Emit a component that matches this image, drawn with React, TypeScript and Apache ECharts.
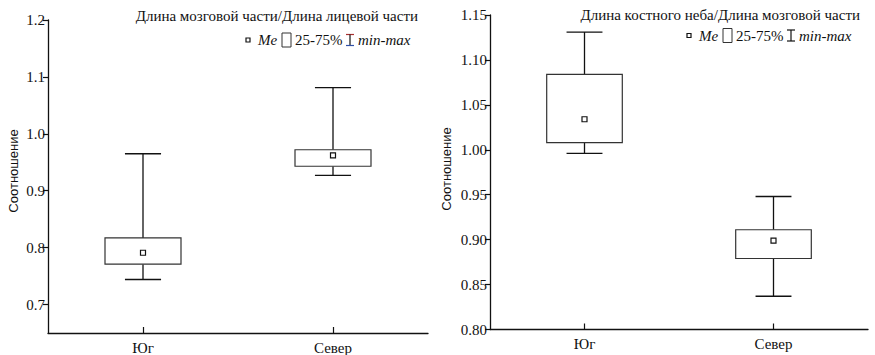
import { useEffect, useRef } from 'react';
import * as echarts from 'echarts';

const categories = ['Юг', 'Север'];
// [min, q1 (25%), median, q3 (75%), max]
const leftStats = [
  [0.744, 0.771, 0.791, 0.817, 0.965],
  [0.927, 0.943, 0.962, 0.972, 1.081],
];
const rightStats = [
  [0.996, 1.008, 1.034, 1.084, 1.131],
  [0.837, 0.879, 0.899, 0.911, 0.948],
];
const leftTicks = [0.7, 0.8, 0.9, 1.0, 1.1, 1.2];
const rightTicks = [0.8, 0.85, 0.9, 0.95, 1.0, 1.05, 1.1, 1.15];
const leftTitle = 'Длина мозговой части/Длина лицевой части';
const rightTitle = 'Длина костного неба/Длина мозговой части';
const yName = 'Соотношение';
const legendTexts = ['Me', '25-75%', 'min-max'];

const SERIF = 'Liberation Serif';
const SANS = 'Liberation Sans';
const INK = '#111111';

const renderBox = (params: any, api: any) => {
  const idx = api.value(0);
  const mn = api.value(1);
  const q1 = api.value(2);
  const md = api.value(3);
  const q3 = api.value(4);
  const mx = api.value(5);
  const band = api.size([1, 0])[0];
  const boxW = band * 0.4;
  const capW = band * 0.19;
  const pMin = api.coord([idx, mn]);
  const pQ1 = api.coord([idx, q1]);
  const pMd = api.coord([idx, md]);
  const pQ3 = api.coord([idx, q3]);
  const pMax = api.coord([idx, mx]);
  const cx = pMin[0];
  const lineStyle = { stroke: INK, lineWidth: 1.3, fill: null };
  return {
    type: 'group',
    children: [
      { type: 'line', shape: { x1: cx, y1: pQ3[1], x2: cx, y2: pMax[1] }, style: lineStyle },
      { type: 'line', shape: { x1: cx, y1: pMin[1], x2: cx, y2: pQ1[1] }, style: lineStyle },
      { type: 'line', shape: { x1: cx - capW / 2, y1: pMax[1], x2: cx + capW / 2, y2: pMax[1] }, style: lineStyle },
      { type: 'line', shape: { x1: cx - capW / 2, y1: pMin[1], x2: cx + capW / 2, y2: pMin[1] }, style: lineStyle },
      {
        type: 'rect',
        shape: { x: cx - boxW / 2, y: pQ3[1], width: boxW, height: pQ1[1] - pQ3[1] },
        style: { fill: '#fff', stroke: '#333', lineWidth: 1.2 },
      },
      {
        type: 'rect',
        shape: { x: cx - 2.5, y: pMd[1] - 2.5, width: 5, height: 5 },
        style: { fill: '#fff', stroke: INK, lineWidth: 1.2 },
      },
    ],
  };
};

const legendGroup = (L: number, yc: number, colored: boolean) => {
  const txt = (x: number, text: string, italic: boolean) => ({
    type: 'text',
    x,
    y: yc,
    style: {
      text,
      fontFamily: SERIF,
      fontSize: 15,
      fontStyle: italic ? 'italic' : 'normal',
      fill: INK,
      align: 'left',
      verticalAlign: 'middle',
    },
  });
  return [
    { type: 'rect', shape: { x: L, y: yc - 2, width: 4, height: 4 }, style: { fill: '#fff', stroke: INK, lineWidth: 1.2 } },
    txt(L + 12, legendTexts[0], true),
    { type: 'rect', shape: { x: L + 36, y: yc - 7, width: 9, height: 14 }, style: { fill: '#fff', stroke: '#333', lineWidth: 1 } },
    txt(L + 49, legendTexts[1], false),
    { type: 'line', shape: { x1: L + 100, y1: yc - 5.5, x2: L + 108, y2: yc - 5.5 }, style: { stroke: colored ? '#a83030' : INK, lineWidth: 1.2 } },
    { type: 'line', shape: { x1: L + 104, y1: yc - 5.5, x2: L + 104, y2: yc + 5.5 }, style: { stroke: INK, lineWidth: 1.2 } },
    { type: 'line', shape: { x1: L + 100, y1: yc + 5.5, x2: L + 108, y2: yc + 5.5 }, style: { stroke: colored ? '#3050a8' : INK, lineWidth: 1.2 } },
    txt(L + 112, legendTexts[2], true),
  ];
};

const makeYAxis = (gridIndex: number, min: number, max: number, ticks: number[], digits: number) => ({
  type: 'value',
  gridIndex,
  min,
  max,
  splitLine: { show: false },
  axisLine: { show: true, lineStyle: { color: INK, width: 1.3 } },
  axisTick: { show: true, inside: false, length: 5, customValues: ticks, lineStyle: { color: INK, width: 1.2 } },
  axisLabel: {
    customValues: ticks,
    formatter: (v: number) => v.toFixed(digits),
    fontFamily: SERIF,
    fontSize: 15,
    color: INK,
    margin: 3,
  },
});

const makeXAxis = (gridIndex: number) => ({
  type: 'category',
  gridIndex,
  data: categories,
  boundaryGap: true,
  axisLine: { show: true, lineStyle: { color: INK, width: 1.3 } },
  axisTick: { show: true, alignWithLabel: true, inside: true, length: 6, lineStyle: { color: INK, width: 1.2 } },
  axisLabel: { fontFamily: SERIF, fontSize: 15, color: INK, margin: 7 },
  splitLine: { show: false },
});

export default function App() {
  const ref = useRef<HTMLDivElement>(null);
  useEffect(() => {
    if (!ref.current) return;
    const chart = echarts.init(ref.current, null, { renderer: 'svg' });
    chart.setOption({
      animation: false,
      backgroundColor: '#fff',
      grid: [
        { left: 48, top: 20, width: 380, height: 314 },
        { left: 490, top: 15, width: 378, height: 314.5 },
      ],
      xAxis: [makeXAxis(0), makeXAxis(1)],
      yAxis: [
        makeYAxis(0, 0.65, 1.2, leftTicks, 1),
        makeYAxis(1, 0.8, 1.15, rightTicks, 2),
      ],
      series: [
        {
          type: 'custom',
          xAxisIndex: 0,
          yAxisIndex: 0,
          renderItem: renderBox,
          encode: { x: 0, y: [1, 2, 3, 4, 5] },
          data: leftStats.map((s, i) => [i, ...s]),
        },
        {
          type: 'custom',
          xAxisIndex: 1,
          yAxisIndex: 1,
          renderItem: renderBox,
          encode: { x: 0, y: [1, 2, 3, 4, 5] },
          data: rightStats.map((s, i) => [i, ...s]),
        },
      ],
      graphic: [
        {
          type: 'text',
          x: 418,
          y: 16,
          style: { text: leftTitle, fontFamily: SERIF, fontSize: 15, fill: INK, align: 'right', verticalAlign: 'middle' },
        },
        {
          type: 'text',
          x: 860,
          y: 15,
          style: { text: rightTitle, fontFamily: SERIF, fontSize: 15, fill: INK, align: 'right', verticalAlign: 'middle' },
        },
        {
          type: 'text',
          x: 13,
          y: 171,
          rotation: Math.PI / 2,
          style: { text: yName, fontFamily: SANS, fontSize: 13, fill: INK, align: 'center', verticalAlign: 'middle' },
        },
        {
          type: 'text',
          x: 446,
          y: 169,
          rotation: Math.PI / 2,
          style: { text: yName, fontFamily: SANS, fontSize: 13, fill: INK, align: 'center', verticalAlign: 'middle' },
        },
        ...legendGroup(246, 40, true),
        ...legendGroup(687, 35.5, false),
      ],
    });
    return () => chart.dispose();
  }, []);
  return <div ref={ref} style={{ position: 'fixed', left: 0, top: 0, width: 875, height: 355 }} />;
}
